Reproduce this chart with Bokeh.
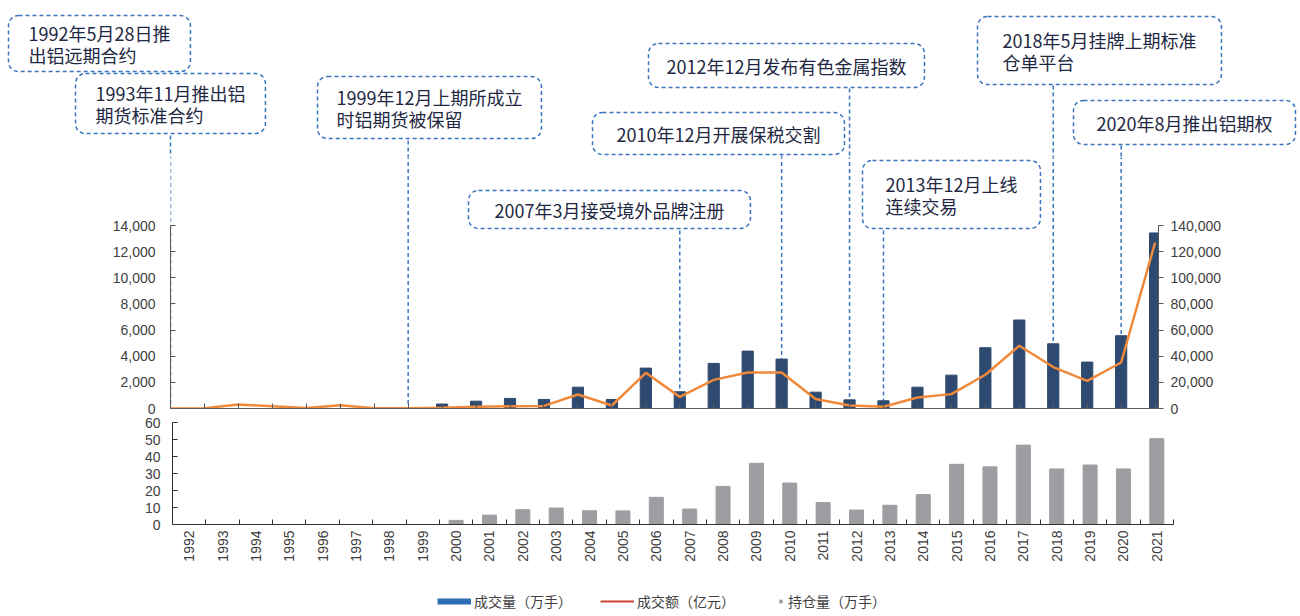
import math
from bokeh.plotting import figure
from bokeh.models import (Range1d, LinearAxis, FixedTicker, NumeralTickFormatter,
                          Label, Legend, LegendItem)
from bokeh.layouts import column
from bokeh.embed import file_html
from bokeh.resources import INLINE

# ---------------- data ----------------
years = [str(y) for y in range(1992, 2022)]
# 成交量（万手）
volume = [0, 0, 0, 0, 0, 0, 0, 0,
          340, 560, 770, 690, 1630, 690, 3090, 1280, 3450, 4390, 3780, 1250,
          660, 590, 1630, 2550, 4650, 6770, 4950, 3550, 5570, 13430]
# 成交额（亿元）
turnover = [0, 250, 3000, 1800, 300, 2550, 150, 150,
            600, 1300, 1800, 2000, 10700, 2300, 27300, 8900, 21900, 27500, 27500, 7200,
            2300, 1300, 8400, 11000, 25800, 48000, 31700, 21200, 35200, 127000]
# 持仓量（万手）
open_interest = [0, 0, 0, 0, 0, 0, 0, 0,
                 2.4, 5.5, 8.7, 9.7, 8.1, 8.0, 16.0, 9.1, 22.4, 36.0, 24.4, 12.9,
                 8.5, 11.3, 17.6, 35.4, 33.9, 46.7, 32.7, 35.0, 32.7, 50.5]

events = ["1992年5月28日推\n出铝远期合约",
          "1993年11月推出铝\n期货标准合约",
          "1999年12月上期所成立\n时铝期货被保留",
          "2007年3月接受境外品牌注册",
          "2010年12月开展保税交割",
          "2012年12月发布有色金属指数",
          "2013年12月上线\n连续交易",
          "2018年5月挂牌上期标准\n仓单平台",
          "2020年8月推出铝期权"]
event_year = ["1992", "1992", "1999", "2007", "2010", "2012", "2013", "2018", "2020"]

idx = list(range(len(years)))

# ---------------- style / layout constants ----------------
W = 1300
TXT = "#404040"
AX = "#595959"
NUM_FONT = "Liberation Sans"
CJK_FONT = "Noto Sans CJK SC"
BOX = "#3a74bd"
BOX_TXT = "#1e2842"

CH_LEFT, CH_W = 170, 988          # chart frame left edge / width (px)
X_END = 29.1                      # category units across chart frame
SC = CH_W / X_END                 # px per category
SPLIT = 157                       # page y where annotation strip ends
ZERO_Y = 408                      # page y of value 0
Y_PER_PX = 14000 / 183.0          # volume units per px
B_TOP = (ZERO_Y - SPLIT) * Y_PER_PX


def sx2d(px):
    return (px - CH_LEFT) / SC


def syB(py):
    return (ZERO_Y - py) * Y_PER_PX


# annotation boxes: (left px, top px, pad_h, pad_v, connector-top px or None, panel)
boxes = [(8, 15, 20, 4, None, "A"),
         (75, 73, 20, 6, 135, "A"),
         (317, 76, 19, 7, 140, "A"),
         (468, 190, 26, 6, 230, "B"),
         (592, 112, 24, 8, 155, "A"),
         (648, 43, 18, 9, 88, "A"),
         (862, 160, 23, 10, 230, "B"),
         (977, 16, 25, 10, 85, "A"),
         (1073, 100, 23, 9, 145, "A")]


def make_label(x, y, txt, ph, pv):
    return Label(x=x, y=y, x_units="data", y_units="data", text=txt,
                 text_font=CJK_FONT, text_font_size="18px", text_color=BOX_TXT,
                 text_align="left", text_baseline="top", anchor="top_left",
                 text_line_height=0.85,
                 padding=dict(left=ph, right=ph, top=pv, bottom=pv),
                 background_fill_color="white", border_line_color=BOX,
                 border_line_width=1.5, border_line_dash="4 3", border_radius=10)


# ---------------- A: annotation strip ----------------
A = figure(width=W, height=SPLIT, min_border=0, x_axis_type=None, y_axis_type=None,
           x_range=Range1d(sx2d(0), sx2d(W)), y_range=Range1d(SPLIT, 0),
           frame_align=False, output_backend="svg", toolbar_location=None)
A.outline_line_color = None
A.grid.visible = False

ax0, ay0, ax1, ay1 = [], [], [], []
for (l, t, ph, pv, ct, pan), yr in zip(boxes, event_year):
    if ct is None or pan != "A":
        continue
    i = years.index(yr)
    ax0.append(i); ax1.append(i); ay0.append(ct); ay1.append(SPLIT + 2)
A.segment(x0=ax0, y0=ay0, x1=ax1, y1=ay1, line_color=BOX, line_width=1.5, line_dash="4 3")
for (l, t, ph, pv, ct, pan), txt in zip(boxes, events):
    if pan == "A":
        A.add_layout(make_label(sx2d(l), t, txt, ph, pv))

# ---------------- B: volume / turnover chart ----------------
B = figure(frame_width=CH_W, frame_height=ZERO_Y - SPLIT, min_border_left=CH_LEFT,
           min_border_right=W - CH_LEFT - CH_W, min_border_top=0, min_border_bottom=7,
           x_range=Range1d(0, X_END), y_range=Range1d(0, B_TOP),
           frame_align=False, output_backend="svg", toolbar_location=None)
B.outline_line_color = None
B.grid.visible = False
B.extra_y_ranges = {"amt": Range1d(0, B_TOP * 10)}

bx0, by0, bx1, by1 = [], [], [], []
for (l, t, ph, pv, ct, pan), yr in zip(boxes, event_year):
    if ct is None:
        continue
    i = years.index(yr)
    bx0.append(i); bx1.append(i)
    by0.append(syB(ct) if pan == "B" else B_TOP * 1.01)
    by1.append(volume[i])
B.segment(x0=bx0, y0=by0, x1=bx1, y1=by1, line_color=BOX, line_width=1.5, line_dash="4 3")

B.vbar(x=idx, top=volume, width=0.33, color="#2e4a70")
B.line(x=idx, y=turnover, y_range_name="amt", line_color="#f08a3a", line_width=2.5)

for (l, t, ph, pv, ct, pan), txt in zip(boxes, events):
    if pan == "B":
        B.add_layout(make_label(sx2d(l), syB(t), txt, ph, pv))

ya = B.yaxis[0]
ya.ticker = FixedTicker(ticks=list(range(0, 14001, 2000)))
ya.formatter = NumeralTickFormatter(format="0,0")
ya.bounds = (0, 14000)
ya.major_tick_in = 5
ya.major_tick_out = 0
ya.minor_tick_line_color = None
ya.major_label_standoff = 15
ya.axis_line_color = AX
ya.major_tick_line_color = AX
ya.major_label_text_font = NUM_FONT
ya.major_label_text_font_size = "14px"
ya.major_label_text_color = TXT

ra = LinearAxis(y_range_name="amt",
                ticker=FixedTicker(ticks=list(range(0, 140001, 20000))),
                formatter=NumeralTickFormatter(format="0,0"), bounds=(0, 140000))
ra.major_tick_in = 0
ra.major_tick_out = 5
ra.minor_tick_line_color = None
ra.major_label_standoff = 7
ra.axis_line_color = AX
ra.major_tick_line_color = AX
ra.major_label_text_font = NUM_FONT
ra.major_label_text_font_size = "14px"
ra.major_label_text_color = TXT
B.add_layout(ra, "right")

xa = B.xaxis[0]
xa.ticker = FixedTicker(ticks=idx)
xa.major_label_overrides = {i: "" for i in idx}
xa.major_tick_in = 5
xa.major_tick_out = 0
xa.minor_tick_line_color = None
xa.major_label_standoff = 0
xa.axis_line_color = AX
xa.major_tick_line_color = AX

# ---------------- C: open interest chart ----------------
C = figure(frame_width=1001, frame_height=102, min_border_left=172, min_border_right=W - 172 - 1001,
           min_border_top=7, min_border_bottom=50,
           x_range=Range1d(-0.5, 29.5), y_range=Range1d(0, 60),
           frame_align=False, output_backend="svg", toolbar_location=None)
C.outline_line_color = None
C.grid.visible = False
C.vbar(x=idx, top=open_interest, width=0.42, color="#9d9ea2")

cxa = C.xaxis[0]
cxa.ticker = FixedTicker(ticks=idx, minor_ticks=[i - 0.5 for i in range(len(years) + 1)])
cxa.major_label_overrides = {i: years[i] for i in idx}
cxa.major_tick_in = 0
cxa.major_tick_out = 0
cxa.minor_tick_in = 5
cxa.minor_tick_out = 0
cxa.major_label_orientation = math.pi / 2
cxa.major_label_standoff = 6
cxa.axis_line_color = "#333333"
cxa.minor_tick_line_color = "#333333"
cxa.major_label_text_font = NUM_FONT
cxa.major_label_text_font_size = "14px"
cxa.major_label_text_color = TXT

cya = C.yaxis[0]
cya.ticker = FixedTicker(ticks=list(range(0, 61, 10)))
cya.major_tick_in = 5
cya.major_tick_out = 0
cya.minor_tick_line_color = None
cya.major_label_standoff = 12
cya.axis_line_color = "#333333"
cya.major_tick_line_color = "#333333"
cya.major_label_text_font = NUM_FONT
cya.major_label_text_font_size = "14px"
cya.major_label_text_color = TXT

# ---------------- D: legend strip ----------------
# the series are drawn here only to supply legend glyphs; the y range keeps them out of view
D = figure(width=W, height=40, min_border=0, x_axis_type=None, y_axis_type=None,
           x_range=Range1d(0, 1), y_range=Range1d(-3, -2),
           frame_align=False, output_backend="svg", toolbar_location=None)
D.outline_line_color = None
D.grid.visible = False
r_vol = D.line(x=idx, y=volume, line_color="#2e6db4", line_width=6)
r_amt = D.line(x=idx, y=turnover, line_color="#cc4236", line_width=2)
r_oi = D.scatter(x=idx, y=open_interest, marker="square", size=7, color="#9d9ea2",
                 line_color=None)

common = dict(orientation="horizontal", label_standoff=3, padding=0, margin=0,
              border_line_color=None, background_fill_alpha=0,
              label_text_font=CJK_FONT, label_text_font_size="14px",
              label_text_color=TXT, glyph_height=14)
leg1 = Legend(items=[LegendItem(label="成交量（万手）", renderers=[r_vol]),
                     LegendItem(label="成交额（亿元）", renderers=[r_amt])],
              location=(437, 3), glyph_width=34, spacing=28, **common)
leg2 = Legend(items=[LegendItem(label="持仓量（万手）", renderers=[r_oi])],
              location=(776, 3), glyph_width=9, spacing=0, **common)
D.add_layout(leg1)
D.add_layout(leg2)

layout = column(A, B, C, D)
open("out.html", "w").write(file_html(layout, INLINE))
